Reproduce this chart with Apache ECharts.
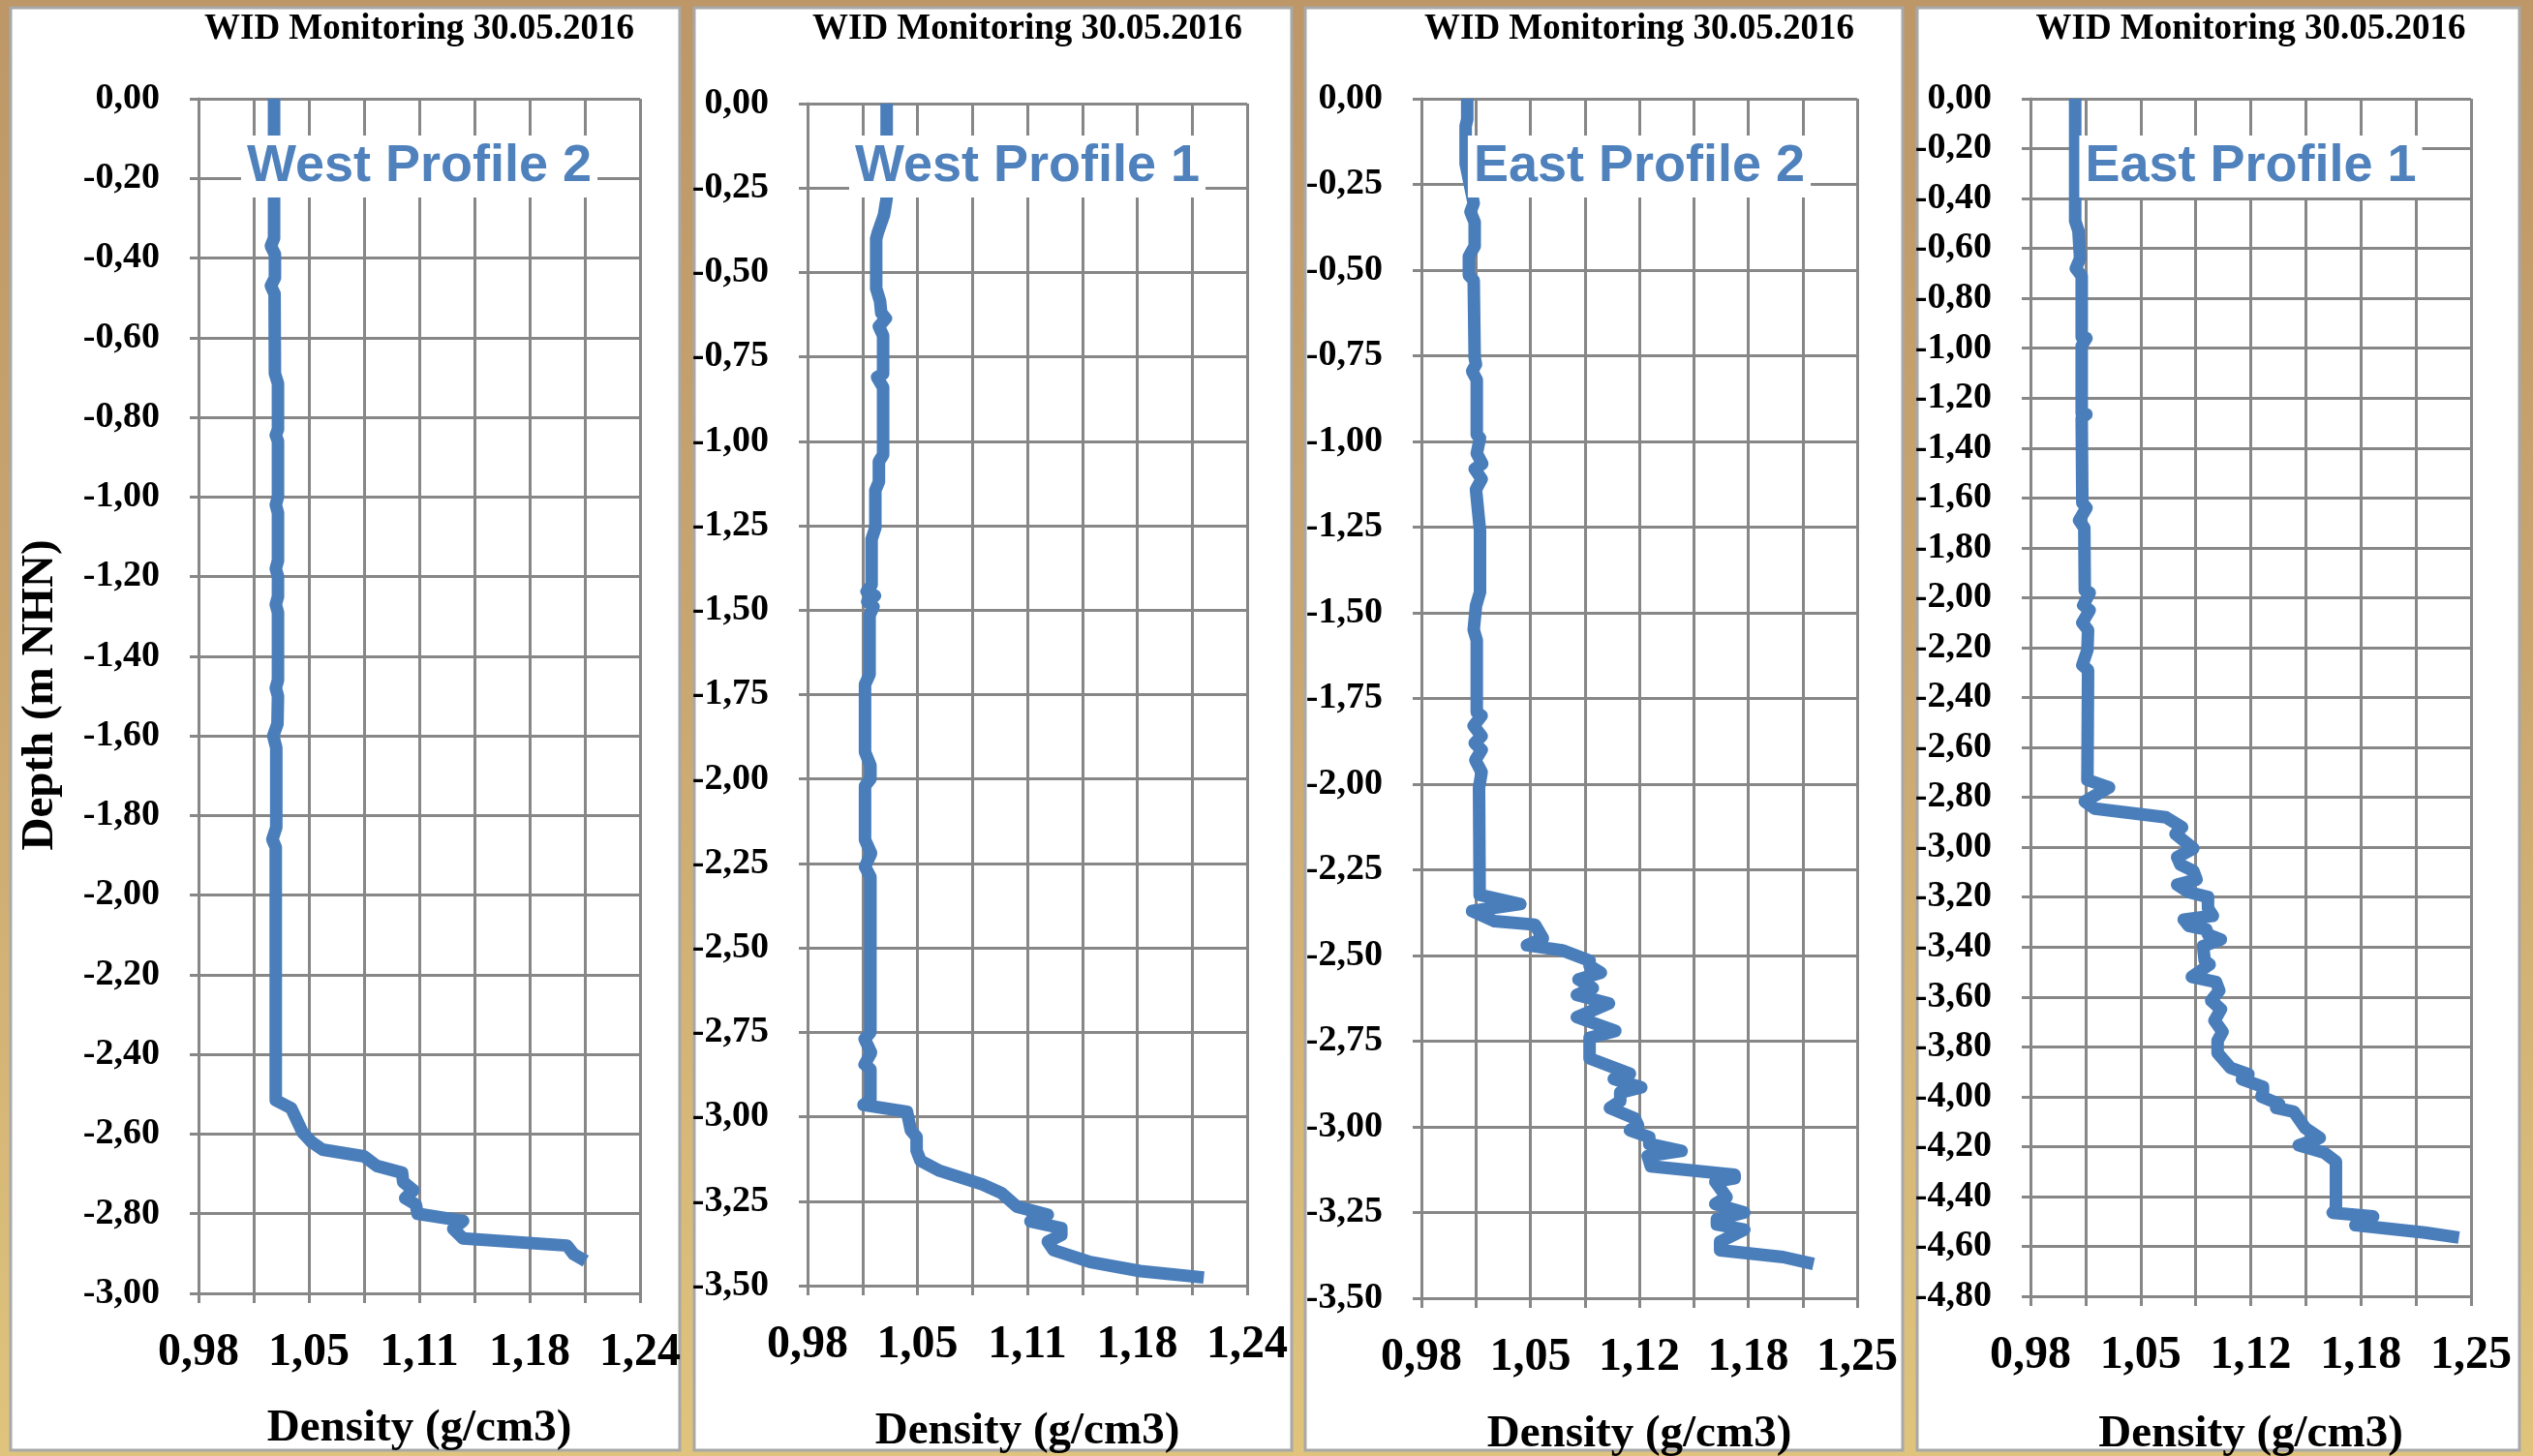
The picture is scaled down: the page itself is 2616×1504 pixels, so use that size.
<!DOCTYPE html>
<html>
<head>
<meta charset="utf-8">
<script src="https://cdn.jsdelivr.net/npm/echarts@6/dist/echarts.min.js"></script>
<style>
html,body{margin:0;padding:0;}
body{width:2616px;height:1504px;background:linear-gradient(to bottom,#bd9767 0%,#c9a670 45%,#e0c47d 100%);}
#c{width:2616px;height:1504px;}
</style>
</head>
<body>
<div id="c"></div>
<script>
// ---- data: [density (g/cm3), depth (m NHN)] ----
const westProfile2 = [
[1.0245,0.00],[1.0245,-0.35],[1.0226,-0.37],[1.0250,-0.39],[1.0250,-0.45],[1.0226,-0.47],[1.0248,-0.49],
[1.0250,-0.69],[1.0268,-0.715],[1.0268,-0.83],[1.0255,-0.845],[1.0268,-0.86],[1.0268,-1.00],[1.0255,-1.02],
[1.0268,-1.04],[1.0268,-1.16],[1.0255,-1.18],[1.0268,-1.20],[1.0268,-1.25],[1.0255,-1.27],[1.0268,-1.29],
[1.0268,-1.46],[1.0255,-1.48],[1.0268,-1.50],[1.0265,-1.57],[1.0240,-1.60],[1.0258,-1.63],[1.0258,-1.83],
[1.0235,-1.86],[1.0255,-1.88],[1.0255,-2.515],[1.0346,-2.535],[1.0413,-2.596],[1.0466,-2.620],[1.0530,-2.639],
[1.0775,-2.656],[1.0850,-2.680],[1.0999,-2.697],[1.1005,-2.720],[1.1066,-2.741],[1.1017,-2.761],[1.1080,-2.777],
[1.1090,-2.800],[1.1358,-2.818],[1.1300,-2.838],[1.1358,-2.862],[1.1970,-2.880],[1.2010,-2.902],[1.2080,-2.919]
];
const westProfile1 = [
[1.0268,0.00],[1.0268,-0.28],[1.0252,-0.33],[1.0217,-0.38],[1.0206,-0.40],[1.0206,-0.547],[1.0229,-0.585],
[1.0236,-0.62],[1.0263,-0.636],[1.0222,-0.66],[1.0247,-0.687],[1.0247,-0.80],[1.0211,-0.81],[1.0247,-0.84],
[1.0247,-1.04],[1.0222,-1.06],[1.0222,-1.12],[1.0201,-1.145],[1.0201,-1.256],[1.0179,-1.29],[1.0179,-1.425],
[1.0149,-1.445],[1.0199,-1.457],[1.0153,-1.475],[1.0190,-1.49],[1.0167,-1.515],[1.0167,-1.69],[1.0140,-1.72],
[1.0140,-1.92],[1.0172,-1.96],[1.0172,-2.00],[1.0140,-2.02],[1.0140,-2.18],[1.0176,-2.22],[1.0140,-2.26],
[1.0172,-2.29],[1.0172,-2.75],[1.0138,-2.77],[1.0176,-2.81],[1.0138,-2.845],[1.0172,-2.86],[1.0172,-2.95],
[1.0131,-2.965],[1.0388,-2.985],[1.0411,-3.04],[1.0445,-3.06],[1.0445,-3.10],[1.0468,-3.13],[1.0582,-3.16],
[1.0833,-3.20],[1.0947,-3.226],[1.1038,-3.266],[1.1221,-3.29],[1.1118,-3.31],[1.1301,-3.33],[1.1301,-3.35],
[1.1221,-3.37],[1.1255,-3.395],[1.1472,-3.43],[1.1768,-3.457],[1.2144,-3.476]
];
const eastProfile2 = [
[1.0084,0.00],[1.0084,-0.06],[1.0074,-0.08],[1.0074,-0.19],[1.0124,-0.305],[1.0104,-0.33],[1.0130,-0.36],
[1.0130,-0.43],[1.0094,-0.46],[1.0094,-0.515],[1.0124,-0.53],[1.0130,-0.755],[1.0138,-0.775],[1.0114,-0.795],
[1.0143,-0.82],[1.0143,-0.98],[1.0163,-0.99],[1.0143,-1.035],[1.0177,-1.065],[1.0130,-1.08],[1.0173,-1.11],
[1.0138,-1.14],[1.0163,-1.26],[1.0163,-1.44],[1.0138,-1.48],[1.0124,-1.55],[1.0143,-1.58],[1.0143,-1.79],
[1.0173,-1.80],[1.0124,-1.83],[1.0173,-1.86],[1.0130,-1.88],[1.0173,-1.90],[1.0134,-1.93],[1.0173,-1.965],
[1.0157,-2.01],[1.0161,-2.323],[1.0413,-2.35],[1.0114,-2.37],[1.0253,-2.40],[1.0503,-2.41],[1.0553,-2.45],
[1.0453,-2.47],[1.0673,-2.485],[1.0842,-2.515],[1.0842,-2.53],[1.0912,-2.55],[1.0773,-2.57],[1.0862,-2.595],
[1.0763,-2.615],[1.0962,-2.64],[1.0763,-2.68],[1.1002,-2.72],[1.0842,-2.74],[1.0842,-2.80],[1.1092,-2.845],
[1.0992,-2.86],[1.1162,-2.885],[1.1032,-2.90],[1.1032,-2.925],[1.0968,-2.945],[1.1122,-2.975],[1.1142,-2.995],
[1.1092,-3.01],[1.1212,-3.03],[1.1212,-3.05],[1.1412,-3.07],[1.1202,-3.085],[1.1222,-3.115],[1.1741,-3.14],
[1.1741,-3.15],[1.1621,-3.16],[1.1691,-3.205],[1.1621,-3.225],[1.1801,-3.25],[1.1631,-3.27],[1.1631,-3.285],
[1.1801,-3.30],[1.1651,-3.335],[1.1651,-3.36],[1.2041,-3.38],[1.2230,-3.40]
];
const eastProfile1 = [
[1.0074,0.00],[1.0074,-0.49],[1.0094,-0.53],[1.0104,-0.64],[1.0078,-0.68],[1.0114,-0.71],[1.0114,-0.955],
[1.0143,-0.96],[1.0114,-0.99],[1.0114,-1.26],[1.0143,-1.265],[1.0114,-1.28],[1.0118,-1.62],[1.0143,-1.64],
[1.0098,-1.69],[1.0130,-1.72],[1.0133,-1.97],[1.0163,-1.98],[1.0124,-2.03],[1.0163,-2.05],[1.0118,-2.10],
[1.0153,-2.13],[1.0149,-2.21],[1.0118,-2.27],[1.0153,-2.29],[1.0149,-2.73],[1.0282,-2.76],[1.0133,-2.817],
[1.0193,-2.845],[1.0630,-2.88],[1.0729,-2.92],[1.0689,-2.947],[1.0798,-3.005],[1.0699,-3.04],[1.0719,-3.07],
[1.0798,-3.095],[1.0818,-3.13],[1.0699,-3.15],[1.0769,-3.18],[1.0888,-3.20],[1.0888,-3.245],[1.0918,-3.275],
[1.0739,-3.29],[1.0769,-3.315],[1.0878,-3.33],[1.0888,-3.35],[1.0967,-3.37],[1.0858,-3.397],[1.0868,-3.455],
[1.0898,-3.47],[1.0789,-3.52],[1.0937,-3.54],[1.0957,-3.575],[1.0908,-3.615],[1.0967,-3.65],[1.0928,-3.695],
[1.0977,-3.74],[1.0947,-3.775],[1.0947,-3.825],[1.1027,-3.885],[1.1136,-3.91],[1.1096,-3.93],[1.1225,-3.96],
[1.1225,-3.98],[1.1215,-4.00],[1.1325,-4.03],[1.1305,-4.045],[1.1414,-4.06],[1.1483,-4.125],[1.1573,-4.165],
[1.1444,-4.195],[1.1602,-4.225],[1.1672,-4.26],[1.1672,-4.45],[1.1652,-4.465],[1.1900,-4.48],[1.1791,-4.515],
[1.2218,-4.545],[1.2426,-4.565]
];

// ---- axis settings / tick labels ----
const profileNames = ['West Profile 2', 'West Profile 1', 'East Profile 2', 'East Profile 1'];
const xLabelsWest = ['0,98', '1,05', '1,11', '1,18', '1,24'];
const xLabelsEast = ['0,98', '1,05', '1,12', '1,18', '1,25'];
const xMin = [0.98, 0.98, 0.98, 0.98];
const xMax = [1.24, 1.24, 1.25, 1.25];
const xStep = [0.0325, 0.0325, 0.03375, 0.03375];
const yMin = [-3.0, -3.5, -3.5, -4.8];
const yStep = [0.2, 0.25, 0.25, 0.2];
const chartTitle = 'WID Monitoring 30.05.2016';
const xTitle = 'Density (g/cm3)';
const yTitle = 'Depth (m NHN)';

const profiles = [westProfile2, westProfile1, eastProfile2, eastProfile1];
const xLabelSets = [xLabelsWest, xLabelsWest, xLabelsEast, xLabelsEast];

// ---- layout ----
const grids = [
  {left: 205, top: 102, width: 456, height: 1234},
  {left: 834, top: 107, width: 454, height: 1221},
  {left: 1468, top: 102, width: 450, height: 1239},
  {left: 2097, top: 102, width: 455, height: 1237}
];
const panels = [
  {x: 11, w: 691}, {x: 717, w: 617}, {x: 1348, w: 617}, {x: 1980, w: 622}
];
const xTitleY = [1476, 1479, 1482, 1482];

const GRAY = '#878787';
const BLUE = '#4a7ebb';
const SERIF = '"Liberation Serif","Times New Roman",serif';

const chart = echarts.init(document.getElementById('c'), null, {renderer: 'canvas'});

const xAxes = [], yAxes = [], series = [], graphic = [];
for (let i = 0; i < 4; i++) {
  const labels = xLabelSets[i];
  const mn = xMin[i], st = xStep[i];
  xAxes.push({
    type: 'value', gridIndex: i, min: mn, max: xMax[i], interval: st,
    axisLine: {show: true, onZero: false, lineStyle: {color: GRAY, width: 3}},
    axisTick: {show: true, length: 10, lineStyle: {color: GRAY, width: 3}},
    splitLine: {show: true, lineStyle: {color: GRAY, width: 3}},
    axisLabel: {
      margin: 38, fontFamily: SERIF, fontWeight: 'bold', fontSize: 48, color: '#000',
      formatter: function (v) {
        const idx = Math.round((v - mn) / st);
        return idx % 2 === 0 ? (labels[idx / 2] || '') : '';
      }
    }
  });
  yAxes.push({
    type: 'value', gridIndex: i, min: yMin[i], max: 0, interval: yStep[i],
    axisLine: {show: true, onZero: false, lineStyle: {color: GRAY, width: 3}},
    axisTick: {show: true, length: 9, lineStyle: {color: GRAY, width: 3}},
    splitLine: {show: true, lineStyle: {color: GRAY, width: 3}},
    axisLabel: {
      margin: 40, fontFamily: SERIF, fontWeight: 'bold', fontSize: 38, color: '#000',
      formatter: function (v) { return v.toFixed(2).replace('.', ','); }
    }
  });
  series.push({
    type: 'line', xAxisIndex: i, yAxisIndex: i, data: profiles[i],
    showSymbol: false, symbol: 'none', smooth: false, z: 3,
    lineStyle: {color: BLUE, width: 13, join: 'round', cap: 'butt'}
  });
  const g = grids[i];
  const cx = g.left + g.width / 2;
  graphic.push({
    type: 'rect', z: -5, silent: true,
    shape: {x: panels[i].x, y: 8, width: panels[i].w, height: 1490},
    style: {fill: '#ffffff', stroke: '#a8a8a8', lineWidth: 3}
  });
  graphic.push({
    type: 'text', z: 100, x: cx, y: 30, silent: true,
    style: {text: chartTitle, font: 'bold 37px ' + SERIF, fill: '#000', align: 'center', verticalAlign: 'middle'}
  });
  graphic.push({
    type: 'text', z: 100, x: cx, y: 172, silent: true,
    style: {text: profileNames[i], font: 'bold 54px "Liberation Sans",Arial,sans-serif', fill: '#4f81bd',
            align: 'center', verticalAlign: 'middle', backgroundColor: '#ffffff', padding: [6, 6, 4, 6]}
  });
  graphic.push({
    type: 'text', z: 100, x: cx, y: xTitleY[i], silent: true,
    style: {text: xTitle, font: 'bold 47px ' + SERIF, fill: '#000', align: 'center', verticalAlign: 'middle'}
  });
}
graphic.push({
  type: 'text', z: 100, x: 42, y: 718, rotation: Math.PI / 2, silent: true,
  style: {text: yTitle, font: 'bold 47px ' + SERIF, fill: '#000', align: 'center', verticalAlign: 'middle'}
});

chart.setOption({
  animation: false,
  backgroundColor: 'transparent',
  grid: grids.map(g => Object.assign({containLabel: false, show: false}, g)),
  xAxis: xAxes,
  yAxis: yAxes,
  series: series,
  graphic: graphic
});
</script>
</body>
</html>
